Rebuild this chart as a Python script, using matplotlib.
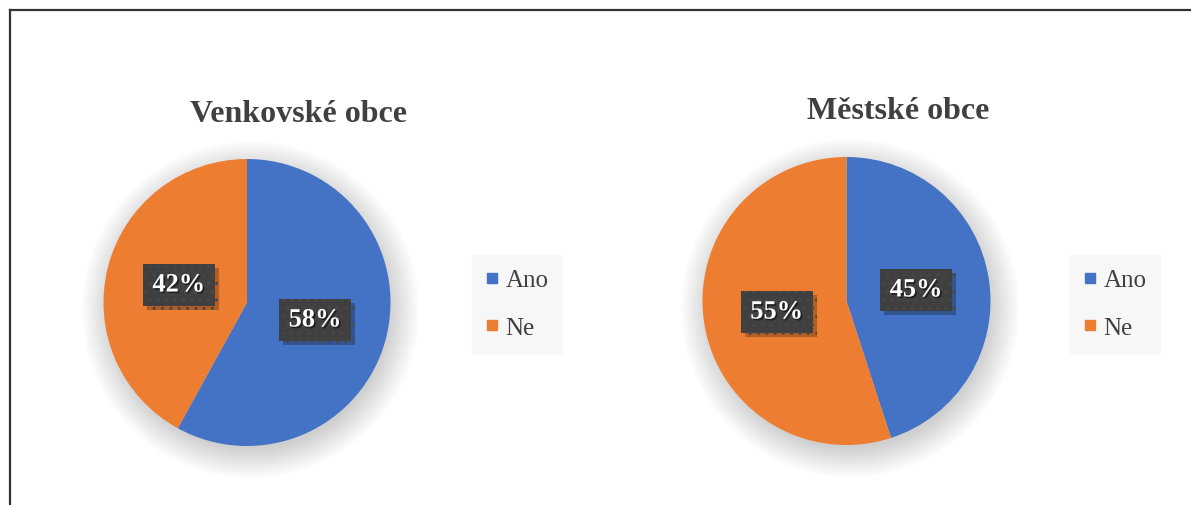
import matplotlib.pyplot as plt
import matplotlib.patheffects as pe
from matplotlib.lines import Line2D
from matplotlib.patches import Circle

W, H = 1191, 506

titles = ["Venkovské obce", "Městské obce"]
categories = ["Ano", "Ne"]
rural_values = [58, 42]
urban_values = [45, 55]
colors = ["#4472C4", "#ED7D31"]

SERIF = ["Liberation Serif", "DejaVu Serif"]
TEXT = "#404040"


def px_axes(fig, cx, cy, r, lim=1.4):
    """Axes centred on pixel (cx, cy) (from top) with a pie of radius r px."""
    size = 2 * lim * r
    left = (cx - size / 2) / W
    bottom = (H - cy - size / 2) / H
    ax = fig.add_axes([left, bottom, size / W, size / H])
    ax.set_xlim(-lim, lim)
    ax.set_ylim(-lim, lim)
    ax.set_aspect("equal")
    ax.axis("off")
    return ax


def draw_pie(ax, values, title, legend_center):
    # soft drop shadow
    n = 24
    for i in range(n):
        ax.add_patch(Circle((0.025, -0.05), 0.97 + 0.009 * i, color="black",
                            alpha=0.007, lw=0, zorder=0))
    wedges, _, autotexts = ax.pie(
        values, colors=colors, startangle=90, counterclock=False,
        autopct="%1.0f%%", pctdistance=0.49,
        wedgeprops=dict(linewidth=0, zorder=2),
        textprops=dict(family=SERIF, fontsize=19, fontweight="bold", color="white"),
    )
    ax.set_xlim(-1.4, 1.4)
    ax.set_ylim(-1.4, 1.4)
    for t in autotexts:
        t.set_bbox(dict(boxstyle="square,pad=0.36", facecolor="#404040",
                        edgecolor="#484848", hatch="..", linewidth=0))
        t.get_bbox_patch().set_path_effects([
            pe.SimplePatchShadow(offset=(3, -3), shadow_rgbFace="black", alpha=0.25),
            pe.Normal()])
        t.set_zorder(4)
        t.set_path_effects([pe.withSimplePatchShadow(offset=(1.2, -1.2),
                                                     shadow_rgbFace="black", alpha=0.5)])
    ax.text(0.36, 1.32, title, ha="center", va="center", family=SERIF,
            fontsize=23, fontweight="bold", color=TEXT)
    handles = [Line2D([], [], marker="s", linestyle="none", markersize=7.5,
                      markerfacecolor=c, markeredgecolor=c) for c in colors]
    leg = ax.figure.legend(handles, categories, loc="center",
                           bbox_to_anchor=(legend_center[0] / W, 1 - legend_center[1] / H),
                           frameon=True, fancybox=False, framealpha=1,
                           facecolor="#f7f7f7", edgecolor="#f7f7f7",
                           prop=dict(family=SERIF, size=18), labelcolor=TEXT,
                           handlelength=0.5, handletextpad=0.3, labelspacing=1.0,
                           borderpad=0.55, borderaxespad=0)
    return leg


fig = plt.figure(figsize=(W / 100, H / 100), dpi=100)

ax1 = px_axes(fig, 247, 303.5, 143.5)
draw_pie(ax1, rural_values, titles[0], (517, 305))

ax2 = px_axes(fig, 846.5, 302, 144)
draw_pie(ax2, urban_values, titles[1], (1115, 305))

# chart frame (only top and left edges visible in the crop)
fig.add_artist(Line2D([9.5 / W, 9.5 / W], [0, 1 - 10.5 / H], color="#333333", lw=1.6))
fig.add_artist(Line2D([9.5 / W, 1], [1 - 10.5 / H, 1 - 10.5 / H], color="#333333", lw=1.6))

fig.savefig("out.png", dpi=100)
